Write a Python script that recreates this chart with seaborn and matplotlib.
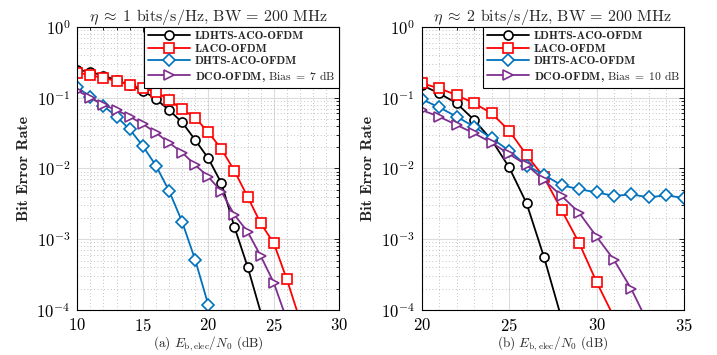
import numpy as np
import pandas as pd
import matplotlib
matplotlib.use("Agg")
import matplotlib.pyplot as plt
import seaborn as sns
from matplotlib.ticker import MultipleLocator, LogLocator, NullFormatter
from matplotlib.font_manager import FontProperties

# ---- data ----
snr_a = list(range(10, 28))
ldhts_a = [0.247, 0.233, 0.203, 0.178, 0.151, 0.126, 0.096, 0.067, 0.045, 0.0253,
           0.0139, 0.0062, 0.00148, 4.1e-4, 9.3e-5]
laco_a = [0.226, 0.210, 0.188, 0.174, 0.151, 0.136, 0.122, 0.093, 0.0687, 0.0522,
          0.0325, 0.0189, 0.00922, 0.00399, 0.00168, 8.8e-4, 2.7e-4, 7.2e-5]
dhts_a = [0.14, 0.1035, 0.0764, 0.054, 0.0358, 0.0208, 0.011, 0.00486, 0.00177,
          5.1e-4, 1.18e-4]
dco_a = [0.126, 0.100, 0.079, 0.067, 0.054, 0.0426, 0.032, 0.0232, 0.0168, 0.0112,
         0.00766, 0.0047, 0.0022, 0.00128, 5.8e-4, 2.43e-4, 7.2e-5]

snr_b = list(range(20, 36))
ldhts_b = [0.151, 0.1156, 0.0835, 0.0485, 0.0253, 0.0104, 0.00322, 5.55e-4, 7.6e-5]
laco_b = [0.16, 0.136, 0.109, 0.0835, 0.0603, 0.0343, 0.0155, 0.0075, 0.00259,
          8.9e-4, 2.5e-4, 7.9e-5]
dhts_b = [0.095, 0.0733, 0.054, 0.039, 0.0267, 0.0179, 0.011, 0.0081, 0.0058, 0.0051,
          0.0046, 0.0041, 0.0043, 0.0039, 0.0042, 0.0038]
dco_b = [0.067, 0.054, 0.0412, 0.0314, 0.0232, 0.016, 0.0112, 0.00687, 0.0041,
         0.00238, 0.00109, 5.1e-4, 1.96e-4, 6.1e-5]

names = ["LDHTS-ACO-OFDM", "LACO-OFDM", "DHTS-ACO-OFDM", "DCO-OFDM"]
colors = ["black", "#FF0000", "#0072BD", "#7E2F8E"]
markers = ["o", "s", "D", ">"]

sns.set_style("white")
plt.rcParams["font.family"] = "cmr10"
plt.rcParams["mathtext.fontset"] = "cm"
plt.rcParams["axes.formatter.use_mathtext"] = True
plt.rcParams["axes.unicode_minus"] = False

fig = plt.figure(figsize=(7.17, 3.55), dpi=100)
ax_a = fig.add_axes([0.1078, 0.1268, 0.3654, 0.7972])
ax_b = fig.add_axes([0.5881, 0.1268, 0.3658, 0.7972])

panels = [
    (ax_a, snr_a, [ldhts_a, laco_a, dhts_a, dco_a], (10, 30), [10, 15, 20, 25, 30],
     r"$\eta\;\approx\;1$ bits/s/Hz, BW = 200 MHz", "7", "(a) "),
    (ax_b, snr_b, [ldhts_b, laco_b, dhts_b, dco_b], (20, 35), [20, 25, 30, 35],
     r"$\eta\;\approx\;2$ bits/s/Hz, BW = 200 MHz", "10", "(b) "),
]

for ax, snr, series, xlim, xt, title, bias, tag in panels:
    for name, vals, c, m in zip(names, series, colors, markers):
        x = snr[:len(vals)]
        df = pd.DataFrame({"snr": x, "ber": vals})
        label = name
        if name == "DCO-OFDM":
            label = name + r", $\mathrm{Bias\ =\ " + bias + r"\ dB}$"
        show = [v >= 1e-4 for v in vals]
        sns.lineplot(data=df, x="snr", y="ber", ax=ax, color=c, marker=m,
                     markersize=6.5, markeredgewidth=1.2, markeredgecolor=c,
                     markerfacecolor="white", linewidth=1.3, label=label,
                     markevery=show, sort=False)
    ax.set_yscale("log")
    ax.set_ylim(1e-4, 1)
    ax.set_xlim(*xlim)
    ax.set_xticks(xt)
    ax.xaxis.set_minor_locator(MultipleLocator(1))
    ax.yaxis.set_major_locator(LogLocator(base=10, numticks=10))
    ax.yaxis.set_minor_locator(LogLocator(base=10, subs=np.arange(2, 10), numticks=10))
    ax.yaxis.set_minor_formatter(NullFormatter())
    ax.grid(which="major", color="#dcdcdc", linestyle="-", linewidth=0.8)
    ax.grid(which="minor", color="#b0b0b0", linestyle=(0, (1, 3)), linewidth=0.6)
    ax.tick_params(which="both", direction="in", top=True, right=True,
                   labelsize=12, colors="black", width=0.6)
    ax.tick_params(which="major", length=3.5)
    ax.tick_params(which="minor", length=2)
    ax.tick_params(axis="x", which="major", pad=5)
    ax.tick_params(axis="y", which="major", pad=5)
    for sp in ax.spines.values():
        sp.set_color("black")
        sp.set_linewidth(0.8)
    ax.set_title(title, fontsize=11.5, pad=4)
    ax.set_ylabel("Bit Error Rate", fontfamily="cmb10", fontsize=11.5, labelpad=4)
    ax.set_xlabel(tag + r"$E_{\mathrm{b,elec}}/N_0$ (dB)", fontsize=9.5, labelpad=0)
    leg = ax.legend(loc="upper right", borderaxespad=0, fancybox=False,
                    prop=FontProperties(family="cmb10", size=8.4),
                    handlelength=3.6, labelspacing=0.2, borderpad=0.35,
                    handletextpad=0.4, framealpha=1)
    leg.get_frame().set_edgecolor("black")
    leg.get_frame().set_linewidth(0.8)

fig.savefig("out.png", dpi=100)
